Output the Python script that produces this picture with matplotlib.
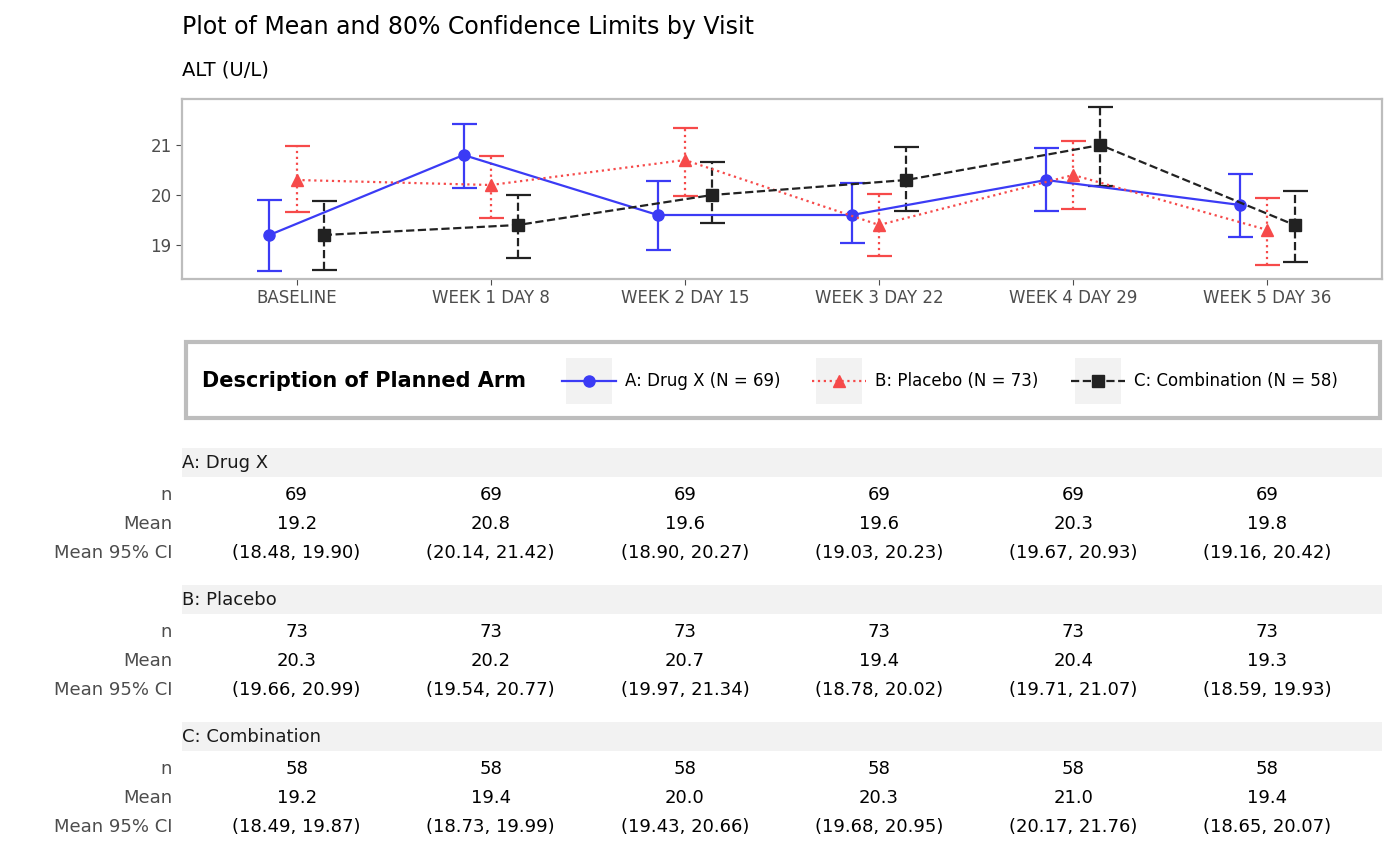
import numpy as np
import matplotlib.pyplot as plt
from matplotlib import transforms
from matplotlib.lines import Line2D
from matplotlib.patches import Rectangle

visits = ["BASELINE", "WEEK 1 DAY 8", "WEEK 2 DAY 15", "WEEK 3 DAY 22", "WEEK 4 DAY 29", "WEEK 5 DAY 36"]
arms = ["A: Drug X", "B: Placebo", "C: Combination"]
arm_n = [69, 73, 58]
mean_a = [19.2, 20.8, 19.6, 19.6, 20.3, 19.8]
lo_a = [18.48, 20.14, 18.90, 19.03, 19.67, 19.16]
hi_a = [19.90, 21.42, 20.27, 20.23, 20.93, 20.42]
mean_b = [20.3, 20.2, 20.7, 19.4, 20.4, 19.3]
lo_b = [19.66, 19.54, 19.97, 18.78, 19.71, 18.59]
hi_b = [20.99, 20.77, 21.34, 20.02, 21.07, 19.93]
mean_c = [19.2, 19.4, 20.0, 20.3, 21.0, 19.4]
lo_c = [18.49, 18.73, 19.43, 19.68, 20.17, 18.65]
hi_c = [19.87, 19.99, 20.66, 20.95, 21.76, 20.07]

means = [mean_a, mean_b, mean_c]
los = [lo_a, lo_b, lo_c]
his = [hi_a, hi_b, hi_c]
colors = ["#3b3bf5", "#f64a4a", "#222222"]
styles = ["-", ":", "--"]
markers = ["o", "^", "s"]
offsets = [-0.14, 0.0, 0.14]

W, H = 1400, 866
fig = plt.figure(figsize=(14, 8.66), dpi=100)
ax = fig.add_axes([182 / W, 1 - 279 / H, 1200 / W, 180 / H])
x = np.arange(len(visits))
for i in range(3):
    xs = x + offsets[i]
    m = np.array(means[i])
    cont = ax.errorbar(xs, m, yerr=[m - np.array(los[i]), np.array(his[i]) - m],
                       color=colors[i], linestyle=styles[i], marker=markers[i],
                       markersize=8, capsize=9, elinewidth=1.6, linewidth=1.6, capthick=1.6)
    for lc in cont[2]:
        lc.set_linestyle(styles[i])
fig.text(182 / W, 1 - 27 / H, "Plot of Mean and 80% Confidence Limits by Visit", fontsize=17, va="center")
fig.text(182 / W, 1 - 70 / H, "ALT (U/L)", fontsize=14, va="center")
ax.set_xlim(-0.59, 5.59)
ax.set_ylim(18.32, 21.92)
ax.set_yticks([19, 20, 21])
ax.set_xticks(x)
ax.set_xticklabels(visits)
ax.tick_params(labelsize=12, colors="#4d4d4d", length=4)
for s in ax.spines.values():
    s.set_color("#bdbdbd")
    s.set_linewidth(1.6)

# legend drawn by hand
def fy(py):
    return 1 - py / H

fig.patches.append(Rectangle((186 / W, fy(418)), 1194 / W, 76 / H, transform=fig.transFigure,
                             fill=False, edgecolor="#bdbdbd", linewidth=3))
fig.text(202 / W, fy(381), "Description of Planned Arm", fontsize=15, fontweight="bold", va="center")
leg_x = [566, 816, 1075]
leg_labels = [f"{a} (N = {n})" for a, n in zip(arms, arm_n)]
for i in range(3):
    lx = leg_x[i]
    fig.patches.append(Rectangle((lx / W, fy(404)), 46 / W, 46 / H, transform=fig.transFigure,
                                 facecolor="#f2f2f2", edgecolor="none", zorder=3))
    fig.lines.append(Line2D([(lx - 4) / W, (lx + 50) / W], [fy(381)] * 2, transform=fig.transFigure,
                            color=colors[i], linestyle=styles[i], linewidth=1.6, zorder=4))
    fig.lines.append(Line2D([(lx + 23) / W], [fy(381)], transform=fig.transFigure, marker=markers[i],
                            color=colors[i], markersize=8, zorder=5))
    fig.text((lx + 59) / W, fy(381), leg_labels[i], fontsize=12, va="center", zorder=6)

# table
tr = transforms.blended_transform_factory(ax.transData, fig.transFigure)
row_names = ["n", "Mean", "Mean 95% CI"]
for k in range(3):
    top = 448 + 137 * k
    fig.patches.append(Rectangle((182 / W, fy(top + 29)), 1200 / W, 29 / H, transform=fig.transFigure,
                                 facecolor="#f2f2f2", edgecolor="none"))
    fig.text(182 / W, fy(top + 15), arms[k], fontsize=13, va="center", color="#1a1a1a")
    for r, name in enumerate(row_names):
        fig.text(172 / W, fy(top + 47 + 29 * r), name, fontsize=13, va="center", ha="right", color="#4d4d4d")
    for j in range(len(visits)):
        vals = [str(arm_n[k]), f"{means[k][j]:.1f}", f"({los[k][j]:.2f}, {his[k][j]:.2f})"]
        for r, v in enumerate(vals):
            fig.text(j, fy(top + 47 + 29 * r), v, transform=tr, fontsize=13, va="center", ha="center")

fig.savefig("out.png", dpi=100)
